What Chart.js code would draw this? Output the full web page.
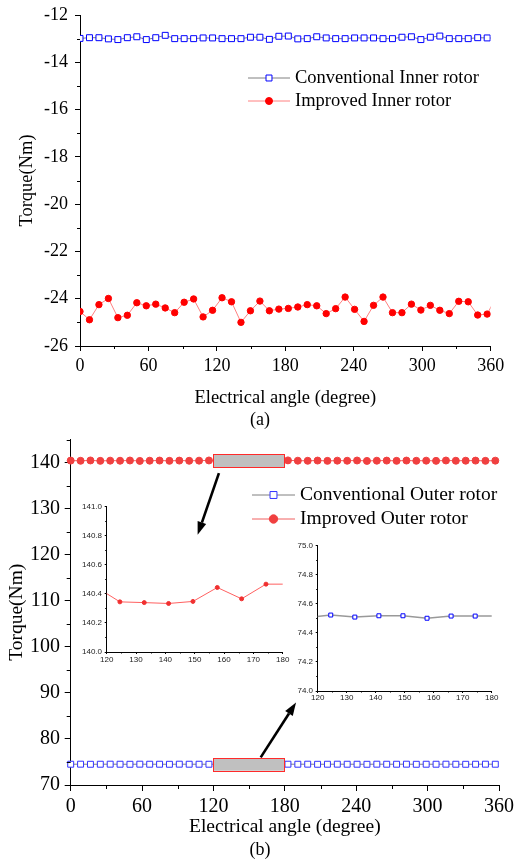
<!DOCTYPE html>
<html>
<head>
<meta charset="utf-8">
<script src="https://cdn.jsdelivr.net/npm/chart.js@4/dist/chart.umd.min.js"></script>
<style>
  html, body { margin: 0; padding: 0; background: #fff; }
  #wrap { position: relative; width: 514px; height: 861px; overflow: hidden; }
  canvas { position: absolute; }
</style>
</head>
<body>
<div id="wrap">
  <canvas id="torqueA" width="514" height="432" style="left:0;top:0"></canvas>
  <canvas id="torqueB" width="514" height="430" style="left:0;top:431px"></canvas>
  <canvas id="zoomRed" width="225" height="180" style="left:70px;top:495px"></canvas>
  <canvas id="zoomBlue" width="225" height="180" style="left:285px;top:535px"></canvas>
</div>
<script>
"use strict";

const SERIF = "'Liberation Serif', 'Times New Roman', serif";
const NARROW = "'Liberation Sans Narrow', 'Liberation Sans', Arial, sans-serif";

// electrical angle of each sample (degree)
const ANGLES = [0, 8.3, 16.6, 24.9, 33.2, 41.5, 49.8, 58.1, 66.4, 74.7, 83, 91.3, 99.6, 107.9,
  116.2, 124.5, 132.8, 141.1, 149.4, 157.7, 166, 174.3, 182.6, 190.9, 199.2, 207.5, 215.8,
  224.1, 232.4, 240.7, 249, 257.3, 265.6, 273.9, 282.2, 290.5, 298.8, 307.1, 315.4, 323.7,
  332, 340.3, 348.6, 356.9, 365.2];

// (a) inner rotor torque (Nm)
const INNER_CONV = [-12.99, -12.96, -12.96, -13.01, -13.04, -12.96, -12.92, -13.04, -12.96, -12.86,
  -13.0, -13.0, -13.0, -12.97, -12.97, -13.0, -13.0, -13.0, -12.94, -12.94, -13.03, -12.9, -12.89,
  -13.01, -13.0, -12.92, -12.97, -13.0, -13.0, -12.97, -12.97, -12.97, -13.0, -13.0, -12.94, -12.92,
  -13.04, -12.94, -12.89, -13.0, -13.0, -13.0, -12.96, -12.97, -12.98];
const INNER_IMPR = [-24.54, -24.89, -24.25, -23.99, -24.8, -24.7, -24.17, -24.3, -24.23, -24.39,
  -24.59, -24.15, -24.01, -24.77, -24.49, -23.96, -24.13, -25.0, -24.51, -24.1, -24.51, -24.44,
  -24.41, -24.35, -24.25, -24.3, -24.63, -24.42, -23.93, -24.45, -24.96, -24.28, -23.93, -24.59,
  -24.59, -24.23, -24.48, -24.28, -24.49, -24.63, -24.11, -24.13, -24.69, -24.65, -23.9];

// (b) outer rotor torque (Nm)
const OUTER_CONV = [74.51, 74.52, 74.5, 74.51, 74.52, 74.51, 74.5, 74.52, 74.51, 74.51, 74.5, 74.52,
  74.51, 74.51, 74.505, 74.522, 74.508, 74.517, 74.517, 74.5, 74.515, 74.515, 74.515, 74.51, 74.52,
  74.5, 74.51, 74.52, 74.51, 74.51, 74.5, 74.52, 74.51, 74.51, 74.52, 74.5, 74.51, 74.51, 74.52,
  74.51, 74.5, 74.51, 74.52, 74.51];
const OUTER_IMPR = [140.42, 140.38, 140.45, 140.36, 140.41, 140.39, 140.44, 140.35, 140.4, 140.43,
  140.37, 140.42, 140.38, 140.41, 140.45, 140.345, 140.34, 140.334, 140.348, 140.444, 140.366,
  140.467, 140.467, 140.4, 140.38, 140.43, 140.36, 140.41, 140.39, 140.44, 140.35, 140.4, 140.42,
  140.37, 140.43, 140.38, 140.41, 140.36, 140.44, 140.39, 140.4, 140.42, 140.37, 140.41];

const X_TICKS = [0, 60, 120, 180, 240, 300, 360];
const Y_TICKS_A = [-26, -24, -22, -20, -18, -16, -14, -12];
const Y_TICKS_B = [70, 80, 90, 100, 110, 120, 130, 140];
const ZOOM_X_TICKS = [120, 130, 140, 150, 160, 170, 180];
const ZOOM_RED_TICKS = [140.0, 140.2, 140.4, 140.6, 140.8, 141.0];
const ZOOM_BLUE_TICKS = [74.0, 74.2, 74.4, 74.6, 74.8, 75.0];

// windows enlarged in the insets, in (b) data units: [x0, x1, y0, y1]
const ZOOM_BOXES = [[120, 180, 138.96, 141.85], [120, 180, 73.1, 75.86]];
// arrows box -> inset, in (b) data units: [xFrom, yFrom, xTo, yTo]
const ARROWS = [[124.6, 137.7, 106.7, 124.3], [159.7, 76.0, 189.4, 87.9]];

const pts = (ys) => ys.map((y, i) => ({ x: ANGLES[i], y }));

// short unlabeled ticks between the major ones
const minorTicks = {
  id: "minorTicks",
  afterDraw(chart, args, o) {
    const ctx = chart.ctx;
    const { left, bottom } = chart.chartArea;
    ctx.save();
    ctx.strokeStyle = "#000";
    ctx.lineWidth = 1;
    ctx.beginPath();
    [["x", o.x], ["y", o.y]].forEach(([id, step]) => {
      const s = chart.scales[id];
      const major = s.ticks.map((t) => t.value);
      const n = Math.round((s.max - s.min) / step);
      for (let k = 0; k <= n; k++) {
        const v = s.min + k * step;
        if (major.some((m) => Math.abs(m - v) < step / 100)) continue;
        const p = Math.round(s.getPixelForValue(v)) + 0.5;
        if (id === "x") { ctx.moveTo(p, bottom); ctx.lineTo(p, bottom + o.len); }
        else { ctx.moveTo(left, p); ctx.lineTo(left - o.len, p); }
      }
    });
    ctx.stroke();
    ctx.restore();
  },
};

// legend drawn inside the plot, Origin style
const insideLegend = {
  id: "insideLegend",
  afterDraw(chart, args, o) {
    if (!o.len) return;
    const ctx = chart.ctx;
    ctx.save();
    ctx.font = `${o.size}px ${SERIF}`;
    ctx.textBaseline = "middle";
    chart.data.datasets.forEach((ds, i) => {
      const y = o.y + i * o.gap;
      ctx.strokeStyle = ds.borderColor;
      ctx.lineWidth = 1;
      ctx.beginPath(); ctx.moveTo(o.x, y); ctx.lineTo(o.x + o.len, y); ctx.stroke();
      ctx.fillStyle = ds.pointBackgroundColor;
      ctx.strokeStyle = ds.pointBorderColor;
      ctx.lineWidth = ds.pointBorderWidth;
      Chart.helpers.drawPoint(ctx, { pointStyle: ds.pointStyle, radius: o.radius[i],
        borderWidth: ds.pointBorderWidth, rotation: 0 }, o.x + o.len / 2, y);
      ctx.fillStyle = "#000";
      ctx.fillText(ds.label, o.x + o.len + o.textGap, y);
    });
    ctx.restore();
  },
};

// "(a)" / "(b)" under the plot
const caption = {
  id: "caption",
  afterDraw(chart, args, o) {
    if (!o.text) return;
    const ctx = chart.ctx;
    ctx.save();
    ctx.font = `${o.size}px ${SERIF}`;
    ctx.fillStyle = "#000";
    ctx.textAlign = "center";
    ctx.textBaseline = "middle";
    ctx.fillText(o.text, o.x, o.y);
    ctx.restore();
  },
};

function arrow(ctx, x0, y0, x1, y1) {
  const a = Math.atan2(y1 - y0, x1 - x0), head = 13, half = 4.5;
  const bx = x1 - head * Math.cos(a), by = y1 - head * Math.sin(a);
  ctx.lineWidth = 2.6;
  ctx.beginPath(); ctx.moveTo(x0, y0); ctx.lineTo(bx, by); ctx.stroke();
  ctx.beginPath();
  ctx.moveTo(x1, y1);
  ctx.lineTo(bx - half * Math.sin(a), by + half * Math.cos(a));
  ctx.lineTo(bx + half * Math.sin(a), by - half * Math.cos(a));
  ctx.closePath();
  ctx.fill();
}

// grey zoom windows + arrows on (b)
const zoomMarks = {
  id: "zoomMarks",
  afterDatasetsDraw(chart) {
    const { ctx, scales: { x, y } } = chart;
    ctx.save();
    ZOOM_BOXES.forEach(([x0, x1, y0, y1]) => {
      const l = x.getPixelForValue(x0), r = x.getPixelForValue(x1);
      const t = y.getPixelForValue(y1), b = y.getPixelForValue(y0);
      ctx.fillStyle = "#c0c0c0";
      ctx.fillRect(l, t, r - l, b - t);
      ctx.strokeStyle = "#ff2a2a";
      ctx.lineWidth = 1;
      ctx.strokeRect(Math.round(l) + 0.5, Math.round(t) + 0.5, Math.round(r - l), Math.round(b - t));
    });
    ctx.fillStyle = "#000";
    ctx.strokeStyle = "#000";
    ARROWS.forEach(([xa, ya, xb, yb]) => arrow(ctx, x.getPixelForValue(xa), y.getPixelForValue(ya),
      x.getPixelForValue(xb), y.getPixelForValue(yb)));
    ctx.restore();
  },
};

function axis(o) {
  return {
    type: "linear",
    min: o.min,
    max: o.max,
    afterBuildTicks: (s) => { s.ticks = o.ticks.map((v) => ({ value: v })); },
    afterFit: (s) => {
      if (s.isHorizontal()) { s.height = o.size; s.paddingLeft = s.paddingRight = 0; }
      else { s.width = o.size; s.paddingTop = s.paddingBottom = 0; }
    },
    grid: { drawOnChartArea: false, drawTicks: true, tickLength: o.tick, tickColor: "#000", tickWidth: 1 },
    border: { color: "#000", width: 1 },
    ticks: { color: "#000", padding: o.pad, autoSkip: false, maxRotation: 0,
             font: { family: o.family || SERIF, size: o.fontSize },
             callback: o.fmt || ((v) => String(v)) },
    title: o.title
      ? { display: true, text: o.title, color: "#000", font: { family: SERIF, size: o.titleSize }, padding: o.titlePad }
      : { display: false },
  };
}

function baseOptions(pad) {
  return {
    responsive: false, animation: false, devicePixelRatio: 1, events: [],
    layout: { padding: pad },
    plugins: { legend: { display: false }, tooltip: { enabled: false }, title: { display: false } },
  };
}

// ---- (a) inner rotor
const optA = baseOptions({ top: 15, right: 23.3, left: 0, bottom: 0 });
optA.scales = {
  x: axis({ min: 0, max: 360, ticks: X_TICKS, size: 86, tick: 5, pad: 4.2, fontSize: 18,
            title: "Electrical angle (degree)", titleSize: 18.5, titlePad: { top: 0, bottom: 22.9 } }),
  y: axis({ min: -26, max: -12, ticks: Y_TICKS_A, size: 80, tick: 5, pad: 7, fontSize: 18,
            title: "Torque(Nm)", titleSize: 18.5, titlePad: { top: 16, bottom: 0 } }),
};
Object.assign(optA.plugins, {
  minorTicks: { x: 30, y: 1, len: 3 },
  insideLegend: { x: 248, y: 78, len: 42, gap: 23, textGap: 5, size: 18.5, radius: [4.2, 3.5] },
  caption: { text: "(a)", x: 260, y: 420, size: 18 },
});

new Chart(document.getElementById("torqueA"), {
  type: "line",
  data: {
    datasets: [
      { label: "Conventional Inner rotor", data: pts(INNER_CONV), borderColor: "#808080", borderWidth: 1,
        pointStyle: "rect", pointRadius: 4.2, pointBorderColor: "#0000ff", pointBackgroundColor: "#ffffff",
        pointBorderWidth: 1, clip: { left: 0, right: 0, top: 6, bottom: 6 } },
      { label: "Improved Inner rotor", data: pts(INNER_IMPR), borderColor: "#ff8080", borderWidth: 1,
        pointStyle: "circle", pointRadius: 3.2, pointBorderColor: "#ff0000", pointBackgroundColor: "#ff0000",
        pointBorderWidth: 1, clip: { left: 0, right: 0, top: 6, bottom: 6 } },
    ],
  },
  options: optA,
  plugins: [minorTicks, insideLegend, caption],
});

// ---- (b) outer rotor
const optB = baseOptions({ top: 8.5, right: 15, left: 0, bottom: 0 });
optB.scales = {
  x: axis({ min: 0, max: 360, ticks: X_TICKS, size: 76, tick: 6, pad: 3.7, fontSize: 20,
            title: "Electrical angle (degree)", titleSize: 19.5, titlePad: { top: 0, bottom: 22.6 } }),
  y: axis({ min: 70, max: 145, ticks: Y_TICKS_B, size: 70.7, tick: 6, pad: 4.7, fontSize: 20,
            title: "Torque(Nm)", titleSize: 19.5, titlePad: { top: 5.3, bottom: 0 } }),
};
Object.assign(optB.plugins, {
  minorTicks: { x: 30, y: 5, len: 4 },
  insideLegend: { x: 252, y: 64, len: 43, gap: 24, textGap: 5, size: 19.5, radius: [4.9, 4.2] },
  caption: { text: "(b)", x: 260, y: 419, size: 18 },
});

new Chart(document.getElementById("torqueB"), {
  type: "line",
  data: {
    datasets: [
      { label: "Conventional Outer rotor", data: pts(OUTER_CONV), borderColor: "#808080", borderWidth: 1,
        pointStyle: "rect", pointRadius: 4.2, pointBorderColor: "#3333ff", pointBackgroundColor: "#ffffff",
        pointBorderWidth: 1, clip: 5 },
      { label: "Improved Outer rotor", data: pts(OUTER_IMPR), borderColor: "#f06060", borderWidth: 1,
        pointStyle: "circle", pointRadius: 3.5, pointBorderColor: "#f04040", pointBackgroundColor: "#f04040",
        pointBorderWidth: 1, clip: 5 },
    ],
  },
  options: optB,
  plugins: [zoomMarks, minorTicks, insideLegend, caption],
});

// ---- insets (120-180 degree windows of (b))
function inset(id, series, yMin, yMax, yTicks, box, ds) {
  const opt = baseOptions({ top: box.top, right: box.right, left: 0, bottom: 0 });
  opt.scales = {
    x: axis({ min: 120, max: 180, ticks: ZOOM_X_TICKS, size: box.xh, tick: 2, pad: box.xpad, fontSize: 8,
              family: NARROW }),
    y: axis({ min: yMin, max: yMax, ticks: yTicks, size: box.yw, tick: 2, pad: 2.7, fontSize: 8,
              family: NARROW, fmt: (v) => v.toFixed(1) }),
  };
  opt.scales.x.ticks.color = opt.scales.y.ticks.color = "#222";
  opt.plugins.minorTicks = { x: 5, y: 0.1, len: 1.5 };
  new Chart(document.getElementById(id), {
    type: "line",
    data: { datasets: [Object.assign({ data: pts(series), clip: { left: 0, right: 0, top: 4, bottom: 4 } }, ds)] },
    options: opt,
    plugins: [minorTicks],
  });
}

inset("zoomRed", OUTER_IMPR, 140, 141, ZOOM_RED_TICKS,
  { top: 11.7, right: 12.3, xh: 23, yw: 36.7, xpad: 1 },
  { borderColor: "#ff6060", borderWidth: 1, pointStyle: "circle", pointRadius: 2,
    pointBackgroundColor: "#f03030", pointBorderColor: "#f03030", pointBorderWidth: 1 });

inset("zoomBlue", OUTER_CONV, 74, 75, ZOOM_BLUE_TICKS,
  { top: 10.5, right: 18.3, xh: 24, yw: 32.7, xpad: 0 },
  { borderColor: "#999999", borderWidth: 1.5, pointStyle: "rect", pointRadius: 2.8,
    pointBackgroundColor: "#ffffff", pointBorderColor: "#0000ff", pointBorderWidth: 1 });
</script>
</body>
</html>
